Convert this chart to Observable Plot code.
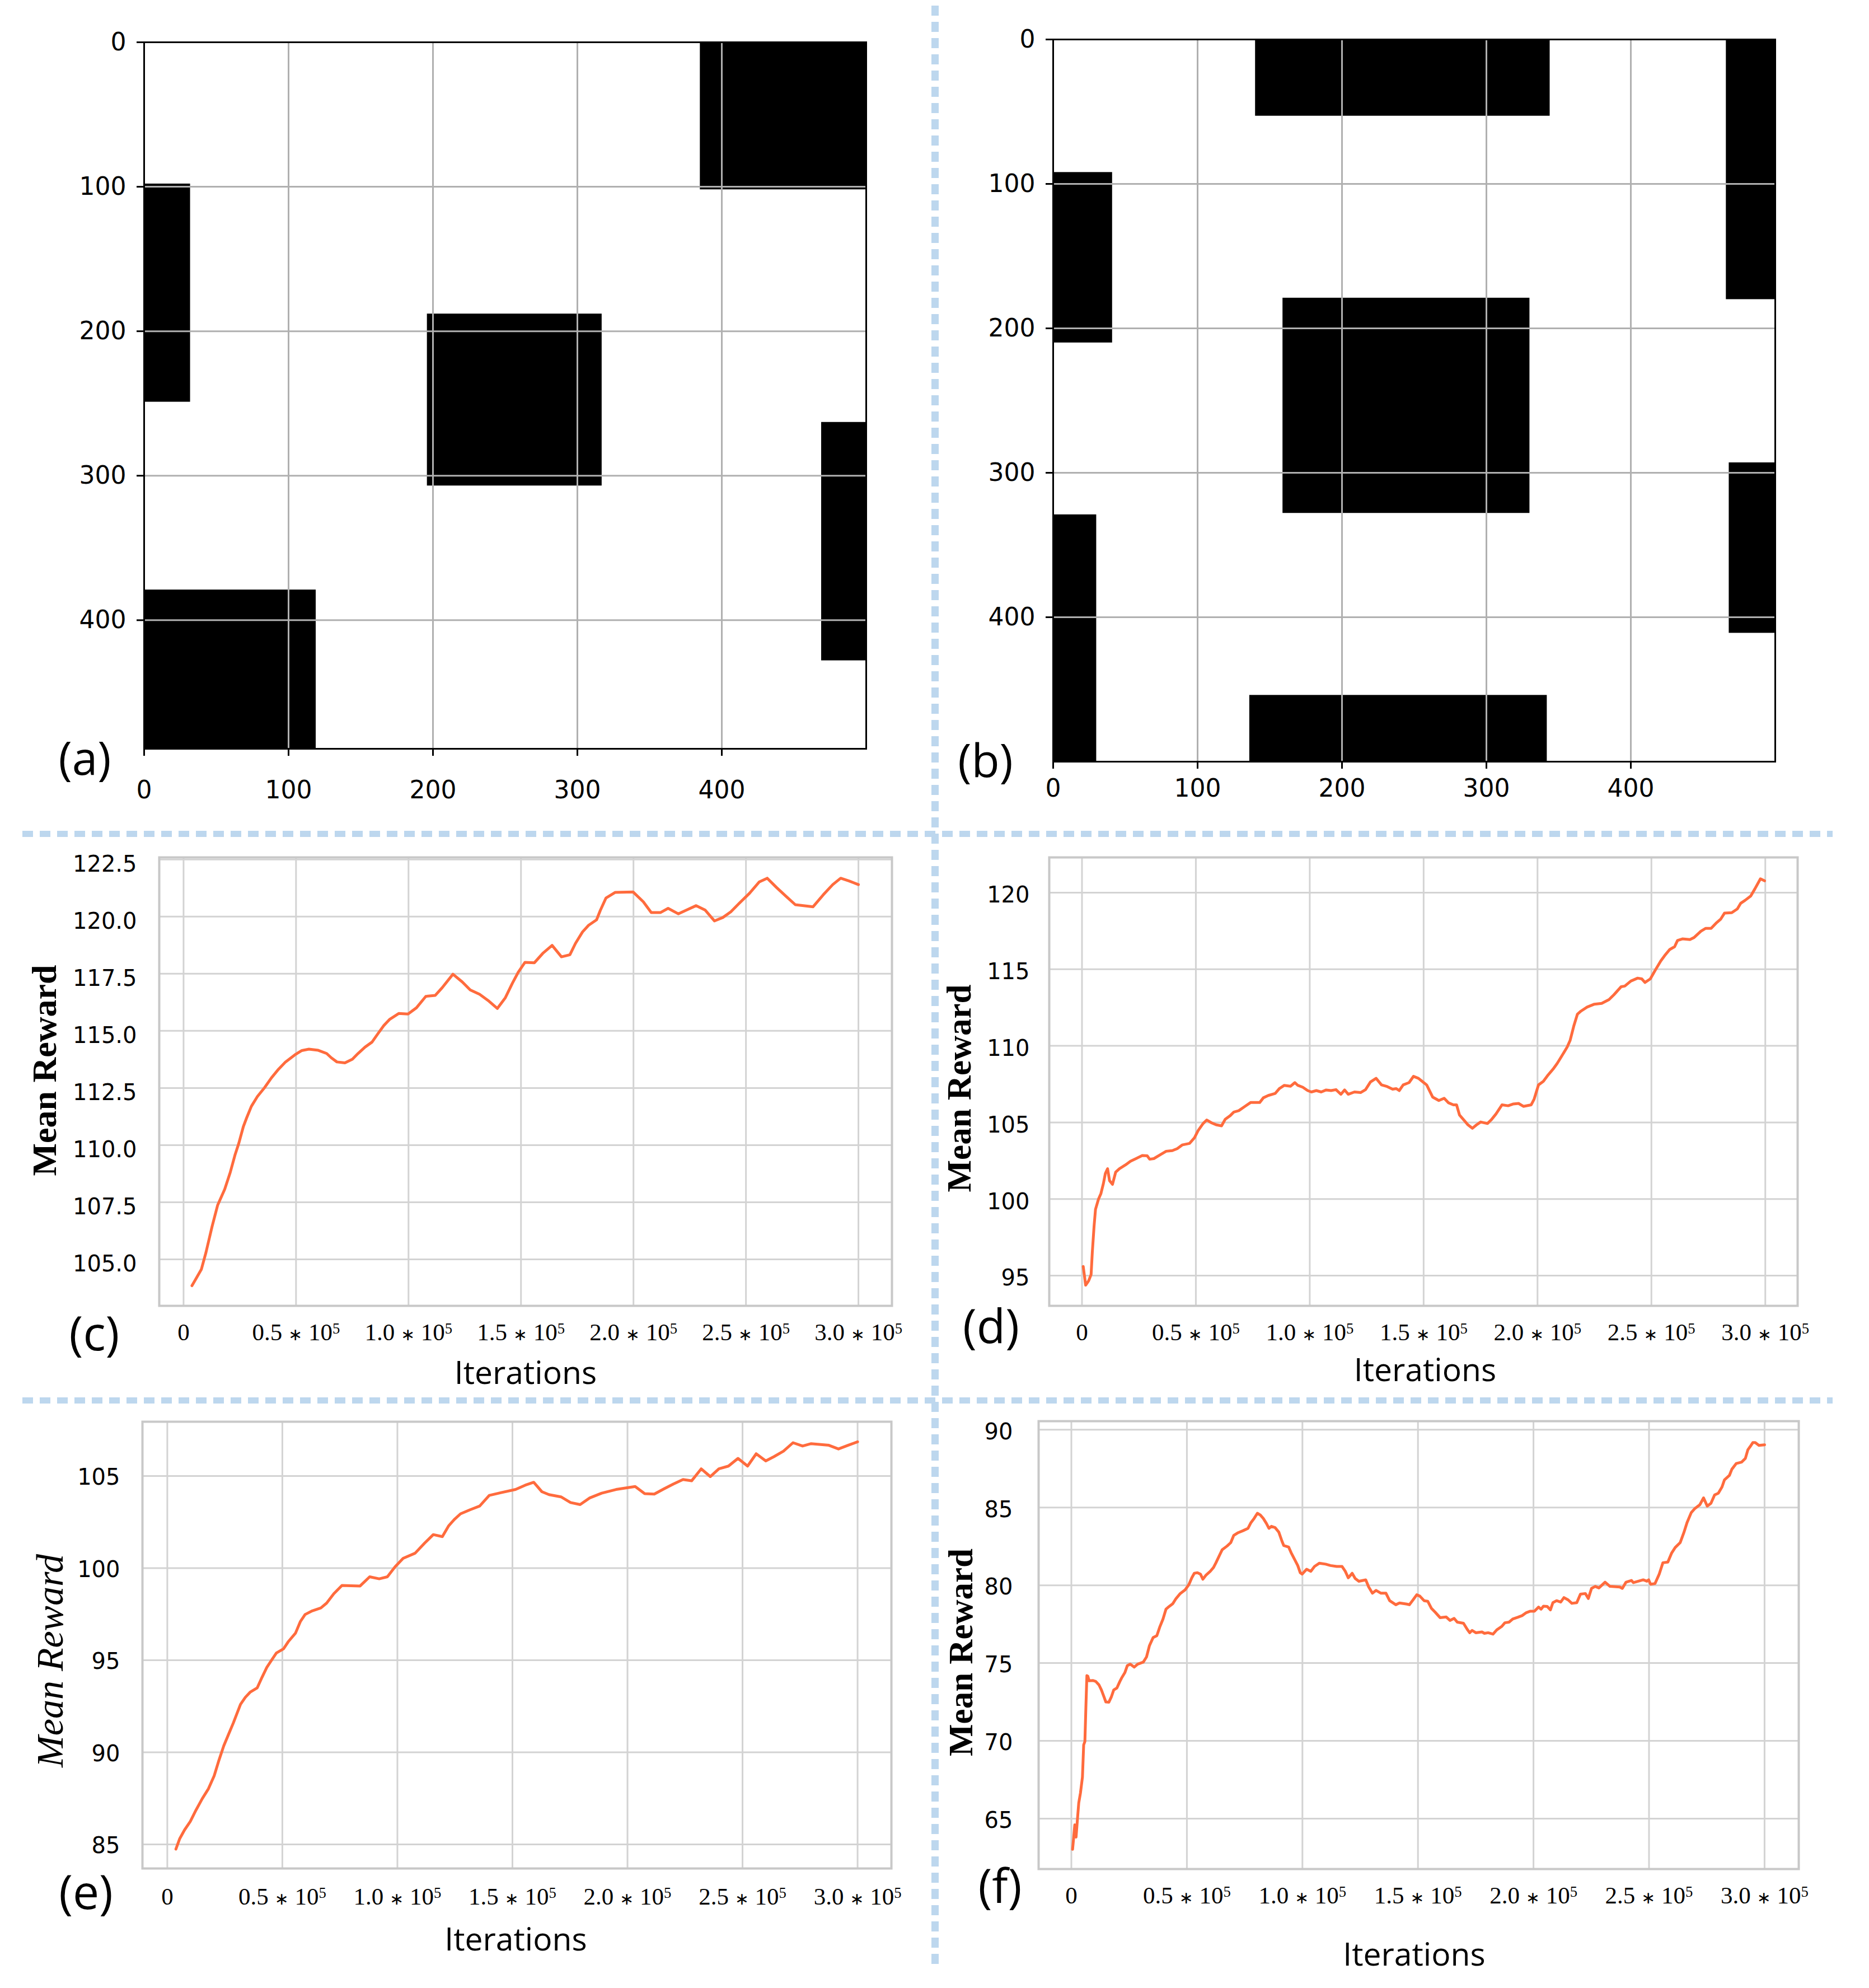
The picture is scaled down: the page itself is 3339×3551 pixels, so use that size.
<!DOCTYPE html>
<html><head><meta charset="utf-8">
<script src="https://cdn.jsdelivr.net/npm/d3@7"></script>
<script src="https://cdn.jsdelivr.net/npm/@observablehq/plot@0.6"></script>
<style>
body{margin:0;background:#fff;}
#page{position:relative;width:3339px;height:3551px;background:#fff;overflow:hidden;}
.sep{position:absolute;}
.sepH{height:11px;background:repeating-linear-gradient(to right,#bdd7ee 0 19px,transparent 19px 31px);}
.sepV{width:13px;background:repeating-linear-gradient(to bottom,#bdd7ee 0 18px,transparent 18px 29px);}
</style></head>
<body><div id="page">
<div class="sep sepH" style="left:40px;top:1484px;width:3234px;"></div>
<div class="sep sepH" style="left:40px;top:2496px;width:3234px;"></div>
<div class="sep sepV" style="left:1664px;top:10px;height:3502px;"></div>
</div>
<script>
// ---------- data: obstacle maps ----------
const mapTicks = [0, 100, 200, 300, 400];
const aX1 = [385, 0, 196, 469, 0];
const aX2 = [500, 32, 317, 500, 119];
const aY1 = [0, 98, 188, 263, 379];
const aY2 = [102, 249, 307, 428, 489];
const bX1 = [140, 0, 466, 159, 468, 0, 136];
const bX2 = [344, 41, 500, 330, 500, 30, 342];
const bY1 = [0, 92, 0, 179, 293, 329, 454];
const bY2 = [53, 210, 180, 328, 411, 500, 500];

// ---------- data: training curves ----------
const iterTicks = [0, 50000, 100000, 150000, 200000, 250000, 300000];
const iterTickMantissa = ["0", "0.5", "1.0", "1.5", "2.0", "2.5", "3.0"];

const cIter = [3740,7900,9980,12680,15180,18300,20790,22870,24530,26610,28070,30150,32850,35970,39090,42200,45320,49480,52600,55720,59880,63620,65700,68190,71730,75050,77550,80670,83790,86490,88990,91690,95640,99790,103530,107690,111850,114970,119750,123910,127440,131600,135760,139500,143040,146160,148860,151770,155930,159670,163830,167990,171740,174230,177350,180050,183590,185250,187750,191910,199800,204370,207910,212070,215400,219970,224130,227870,231820,235980,239720,243260,247000,251570,255940,259460,263620,267780,271940,279840,284410,288570,292110,295850,300000];
const cReward = [103.85,104.56,105.31,106.44,107.38,108.07,108.82,109.57,110.07,110.82,111.20,111.70,112.13,112.51,112.95,113.32,113.64,113.95,114.14,114.20,114.15,114.01,113.82,113.64,113.60,113.76,114.01,114.29,114.51,114.89,115.23,115.51,115.76,115.74,116.01,116.51,116.55,116.89,117.48,117.14,116.79,116.60,116.30,115.98,116.45,117.08,117.58,118.00,117.98,118.39,118.74,118.24,118.33,118.83,119.33,119.62,119.86,120.27,120.81,121.06,121.08,120.65,120.18,120.18,120.36,120.12,120.31,120.48,120.29,119.81,119.96,120.21,120.58,121.02,121.52,121.68,121.27,120.89,120.52,120.43,120.96,121.40,121.68,121.56,121.40];
const cYTicks = [105, 107.5, 110, 112.5, 115, 117.5, 120, 122.5];

const dIter = [540,1620,2920,4000,4540,5300,5940,7240,8320,9400,10270,11240,12100,13400,14800,16430,19130,21290,23990,26480,28640,29720,31560,34260,36960,39660,41820,43980,47220,49380,51000,53170,54790,56950,59110,61270,62890,65050,66680,68840,71540,74020,78020,79640,81800,84830,86670,88830,91530,93470,94770,96930,99090,100710,102880,105040,107200,109360,111520,113680,115300,116920,119620,122330,124490,126650,129130,131510,133670,136370,137990,139290,141020,143610,145560,147720,149200,151330,154000,156670,159020,160940,163070,164460,165740,167870,169480,171400,173210,175030,178010,179620,181750,184420,187090,189220,191680,193810,197230,198510,200430,202560,204700,206830,208640,210570,213020,214300,215900,217500,219100,221770,224970,228170,231380,233510,236710,238310,240980,243970,245780,247170,249520,251650,254110,256130,258060,260190,261470,263610,266920,268730,271720,273860,276210,278340,280470,282080,285280,287730,289230,291150,293600,295410,297870,299680];
const dReward = [95.60,94.38,94.66,95.07,96.53,98.21,99.33,99.99,100.36,101.01,101.67,101.98,101.20,100.96,101.76,101.98,102.23,102.47,102.66,102.84,102.82,102.60,102.64,102.88,103.12,103.16,103.29,103.53,103.63,104.00,104.47,104.93,105.16,104.97,104.84,104.78,105.21,105.44,105.68,105.77,106.05,106.30,106.30,106.61,106.76,106.89,107.21,107.42,107.36,107.60,107.42,107.30,107.08,106.99,107.08,106.99,107.12,107.08,107.14,106.84,107.12,106.84,106.99,106.95,107.14,107.64,107.88,107.45,107.36,107.17,107.21,107.08,107.45,107.60,108.01,107.88,107.70,107.45,106.65,106.43,106.58,106.28,106.15,106.15,105.49,105.12,104.84,104.62,104.84,105.03,104.93,105.16,105.55,106.15,106.09,106.20,106.24,106.05,106.15,106.52,107.45,107.68,108.11,108.48,108.85,109.32,109.92,110.35,111.28,112.06,112.27,112.53,112.72,112.77,113.02,113.33,113.86,113.90,114.23,114.42,114.37,114.14,114.37,114.93,115.54,115.95,116.29,116.47,116.88,116.98,116.94,117.07,117.48,117.67,117.67,118.00,118.28,118.66,118.69,118.94,119.31,119.50,119.78,120.24,120.90,120.77];
const dYTicks = [95, 100, 105, 110, 115, 120];

const eIter = [3740,5400,7480,9980,12470,15180,17880,20370,22450,24530,26610,28690,30350,31810,33890,35970,39090,41160,43240,45320,47400,50520,52600,55720,57800,59880,63000,66740,69240,72360,75900,83790,87950,92110,95640,98970,102500,107690,111850,115600,119540,122240,124740,127440,131600,135760,139920,145110,151350,155510,159250,162790,165910,171100,175260,179420,183590,188780,195020,203340,207490,211650,215810,219970,224130,227870,232030,235980,239720,243880,248030,252200,255940,260100,263620,267780,271940,276100,279840,287530,291690,295850,300000];
const eReward = [84.74,85.31,85.78,86.24,86.86,87.48,88.02,88.72,89.57,90.35,90.97,91.59,92.13,92.60,92.98,93.26,93.50,94.07,94.61,95.00,95.39,95.62,96.01,96.47,97.09,97.48,97.68,97.84,98.10,98.61,99.06,99.03,99.53,99.42,99.53,100.07,100.53,100.81,101.36,101.82,101.71,102.29,102.64,102.95,103.17,103.37,103.95,104.10,104.27,104.50,104.66,104.15,103.99,103.87,103.56,103.45,103.81,104.07,104.27,104.43,104.04,104.02,104.30,104.57,104.81,104.74,105.39,104.97,105.39,105.54,105.96,105.54,106.21,105.82,106.05,106.35,106.81,106.63,106.76,106.67,106.47,106.67,106.86];
const eYTicks = [85, 90, 95, 100, 105];

const fIter = [530,960,1490,2030,2560,3200,3940,4800,5330,5860,6290,6720,7140,7680,9280,10550,11940,13010,14070,14930,16210,17270,18340,19720,21000,21750,23140,24200,25480,27190,28680,31130,32520,33800,35390,36990,38270,39660,40940,42330,43920,45310,47120,49250,50850,52130,53200,54580,55860,56930,58320,60130,61520,62580,64180,65250,67380,68980,70260,72180,74310,76450,77730,79110,80500,81780,83050,84440,85510,86570,88170,89770,91160,91900,94030,95100,96700,97980,99050,99900,101820,103630,105230,107360,110030,112160,114820,117170,118550,119830,121540,122830,124420,127410,128690,130290,131890,134020,136150,137750,140410,142010,145210,146280,147870,149470,150850,152660,154260,155860,157460,159590,162250,163850,165660,167050,169710,171310,172380,173440,175040,177700,178770,180370,182490,184090,186220,187610,189420,191020,193150,195070,196880,198480,200400,202210,203270,204340,205940,207320,208390,209990,211800,213180,214990,216600,218730,220320,222450,223730,225120,226720,228310,230980,233110,237370,238440,240040,242380,243230,245360,247490,249090,249830,250680,252600,254410,256010,258140,259740,261340,263470,265070,266450,268270,269870,272000,273600,275190,276790,278390,279990,281590,282650,284780,285850,287770,290110,291710,292780,293840,294910,295970,297570,300020];
const fReward = [63.03,63.71,64.60,63.81,64.82,66.01,66.65,67.67,69.74,69.96,72.17,74.19,74.15,73.86,73.88,73.82,73.60,73.27,72.85,72.50,72.48,72.81,73.27,73.40,73.82,74.04,74.38,74.83,74.93,74.74,74.93,75.06,75.39,76.12,76.64,76.76,77.32,77.83,78.46,78.64,78.82,79.15,79.47,79.71,80.04,80.48,80.77,80.81,80.72,80.39,80.66,80.90,81.14,81.45,81.95,82.28,82.52,82.74,83.20,83.38,83.51,83.66,84.03,84.30,84.63,84.52,84.30,83.97,83.66,83.79,83.71,83.42,82.83,82.56,82.46,82.10,81.64,81.27,80.81,80.72,81.03,80.90,81.21,81.42,81.36,81.27,81.21,81.21,80.90,80.48,80.77,80.44,80.26,80.35,79.89,79.49,79.67,79.49,79.49,79.01,78.75,78.86,78.79,78.75,79.06,79.39,79.30,79.01,78.97,78.51,78.27,77.92,77.96,77.74,77.87,77.63,77.56,77.17,76.95,77.10,76.95,77.00,76.91,76.95,76.86,77.13,77.35,77.59,77.63,77.83,77.94,78.05,78.24,78.33,78.33,78.60,78.46,78.66,78.64,78.42,78.88,79.01,78.92,79.21,79.06,78.84,78.88,79.43,79.47,79.15,79.80,79.93,79.83,80.20,79.93,79.89,79.80,80.20,80.31,80.17,80.26,80.35,80.26,80.35,80.07,80.11,80.72,81.45,81.49,82.06,82.43,82.74,83.38,84.03,84.67,84.94,85.18,85.62,85.09,85.27,85.81,85.92,86.32,86.78,87.06,87.46,87.83,87.92,88.16,88.71,88.93,89.17,89.17,88.99,89.03];
const fYTicks = [65, 70, 75, 80, 85, 90];

// ---------- helpers ----------
const PAGE = document.getElementById("page");
function place(el, left, top) {
  el.style.position = "absolute";
  el.style.left = left + "px";
  el.style.top = top + "px";
  el.style.overflow = "visible";
  el.style.maxWidth = "none";
  PAGE.appendChild(el);
}
function margins(box, frame) {
  return {
    width: box.w, height: box.h,
    marginLeft: frame.x0 - box.x,
    marginRight: box.x + box.w - frame.x1,
    marginTop: frame.y0 - box.y,
    marginBottom: box.y + box.h - frame.y1
  };
}

function mapPanel(o) {
  const idx = d3.range(o.x1s.length);
  const svg = Plot.plot({
    ...margins(o.box, o.frame),
    x: {domain: [0, 500]},
    y: {domain: [0, o.yMax], reverse: true},
    style: {background: "transparent", overflow: "visible"},
    marks: [
      Plot.rect(idx, {x1: o.x1s, x2: o.x2s, y1: o.y1s, y2: o.y2s, fill: "#000"}),
      Plot.gridX(mapTicks, {stroke: "#b0b0b0", strokeOpacity: 1, strokeWidth: 3}),
      Plot.gridY(mapTicks, {stroke: "#b0b0b0", strokeOpacity: 1, strokeWidth: 3}),
      Plot.frame({stroke: "#000", strokeWidth: 3}),
      Plot.axisX(mapTicks, {anchor: "bottom", tickSize: 13, tickPadding: o.xPad, strokeWidth: 3,
        fontSize: 44, fontFamily: "DejaVu Sans", label: null, tickFormat: d => String(d)}),
      Plot.axisY(mapTicks, {anchor: "left", tickSize: 13, tickPadding: 19, strokeWidth: 3,
        fontSize: 44, fontFamily: "DejaVu Sans", label: null, tickFormat: d => String(d)}),
      Plot.text([o.label], {frameAnchor: "bottom-left", dx: o.labelDx, dy: o.labelDy,
        textAnchor: "middle", lineAnchor: "middle", fontSize: 82, fontFamily: "Open Sans", fill: "#000"})
    ]
  });
  place(svg, o.box.x, o.box.y);
}

function lineChart(o) {
  const svg = Plot.plot({
    ...margins(o.box, o.frame),
    x: {domain: o.xDomain},
    y: {domain: o.yDomain},
    style: {background: "transparent", overflow: "visible"},
    marks: [
      Plot.gridX(iterTicks, {stroke: "#d3d3d3", strokeOpacity: 1, strokeWidth: 3}),
      Plot.gridY(o.yTicks, {stroke: "#d3d3d3", strokeOpacity: 1, strokeWidth: 3}),
      Plot.frame({stroke: "#c8c8c8", strokeWidth: 4}),
      Plot.line(o.reward, {x: o.iter, y: o.reward, stroke: "#ff6b3d", strokeWidth: 5,
        strokeLinejoin: "round", strokeLinecap: "round"}),
      Plot.axisX(iterTicks, {anchor: "bottom", tickSize: 0, tickPadding: o.xPad, fontSize: 43,
        fontFamily: "Liberation Serif", label: null,
        tickFormat: d => iterTickMantissa[iterTicks.indexOf(d)]}),
      Plot.axisY(o.yTicks, {anchor: "left", tickSize: 0, tickPadding: o.yPad, fontSize: 40,
        fontFamily: "DejaVu Sans", label: null, dy: o.yDy, tickFormat: o.yFmt}),
      Plot.text(["Mean Reward"], {frameAnchor: "left", dx: o.ylDx, dy: o.ylDy, rotate: -90,
        textAnchor: "middle", lineAnchor: "middle", fontSize: o.ylSize, fontFamily: "Liberation Serif",
        fontWeight: o.ylWeight, fontStyle: o.ylStyle, fill: "#000", ariaLabel: "ylabel"}),
      Plot.text(["Iterations"], {frameAnchor: "bottom", dx: o.itDx, dy: o.itDy, textAnchor: "middle",
        lineAnchor: "middle", fontSize: 57, fontFamily: "Open Sans", fill: "#000"}),
      Plot.text([o.label], {frameAnchor: "bottom-left", dx: o.labelDx, dy: o.labelDy,
        textAnchor: "middle", lineAnchor: "middle", fontSize: 84, fontFamily: "Open Sans", fill: "#000"})
    ]
  });
  // "m ∗ 10^5" tick labels: centred operator asterisk and superscript exponent
  svg.querySelectorAll('g[aria-label="x-axis tick label"] text').forEach(t => {
    const m = t.textContent;
    if (m === "0" || m === "") return;
    t.textContent = "";
    const s = d3.select(t);
    s.append("tspan").text(m + " ");
    s.append("tspan").attr("font-family", "DejaVu Sans").attr("font-size", "0.7em").text("\u2217");
    s.append("tspan").text(" 10");
    s.append("tspan").attr("dy", "-0.45em").attr("font-size", "0.62em").text("5");
  });
  if (o.ylSpacing) {
    svg.querySelectorAll('g[aria-label="ylabel"] text').forEach(t => t.setAttribute("letter-spacing", o.ylSpacing));
  }
  place(svg, o.box.x, o.box.y);
}

// ---------- panels ----------
mapPanel({x1s: aX1, x2s: aX2, y1s: aY1, y2s: aY2, yMax: 489,
  box: {x: 0, y: 0, w: 1660, h: 1480}, frame: {x0: 257, x1: 1547, y0: 75, y1: 1337},
  xPad: 44, label: "(a)", labelDx: -106, labelDy: 20});
mapPanel({x1s: bX1, x2s: bX2, y1s: bY1, y2s: bY2, yMax: 500,
  box: {x: 1680, y: 0, w: 1659, h: 1480}, frame: {x0: 1881, x1: 3171, y0: 70, y1: 1360},
  xPad: 18, label: "(b)", labelDx: -121, labelDy: 1});

const fmt1 = d => d.toFixed(1);
const fmt0 = d => d.toFixed(0);

lineChart({iter: cIter, reward: cReward, xDomain: [-10800, 314900], yDomain: [102.97, 122.59],
  yTicks: cYTicks, yFmt: fmt1, box: {x: 0, y: 1500, w: 1660, h: 995},
  frame: {x0: 284, x1: 1593, y0: 1531, y1: 2332}, xPad: 31, yPad: 40, yDy: 9,
  ylDx: -204, ylDy: -20, ylSize: 62, ylWeight: "bold", ylStyle: "normal",
  itDx: 0, itDy: 121, label: "(c)", labelDx: -116, labelDy: 53});
lineChart({iter: dIter, reward: dReward, xDomain: [-14370, 314200], yDomain: [93.03, 122.30],
  yTicks: dYTicks, yFmt: fmt0, box: {x: 1680, y: 1500, w: 1659, h: 995},
  frame: {x0: 1874, x1: 3211, y0: 1531, y1: 2332}, xPad: 31, yPad: 35, yDy: 5,
  ylDx: -160, ylDy: 12, ylSize: 61, ylWeight: "bold", ylStyle: "normal",
  itDx: 3, itDy: 116, label: "(d)", labelDx: -104, labelDy: 40});
lineChart({iter: eIter, reward: eReward, xDomain: [-10800, 314700], yDomain: [83.69, 107.95],
  yTicks: eYTicks, yFmt: fmt0, box: {x: 0, y: 2510, w: 1660, h: 1041},
  frame: {x0: 254, x1: 1592, y0: 2539, y1: 3337}, xPad: 34, yPad: 40, yDy: 3,
  ylDx: -164, ylDy: 28, ylSize: 68, ylWeight: "normal", ylStyle: "italic", ylSpacing: "2",
  itDx: -2, itDy: 128, label: "(e)", labelDx: -101, labelDy: 46});
lineChart({iter: fIter, reward: fReward, xDomain: [-14170, 314800], yDomain: [61.76, 90.55],
  yTicks: fYTicks, yFmt: fmt0, box: {x: 1680, y: 2510, w: 1659, h: 1041},
  frame: {x0: 1855, x1: 3213, y0: 2538, y1: 3338}, xPad: 31, yPad: 46, yDy: 4,
  ylDx: -138, ylDy: 13, ylSize: 61, ylWeight: "bold", ylStyle: "normal",
  itDx: -8, itDy: 154, label: "(f)", labelDx: -69, labelDy: 34});
</script>
</body></html>
